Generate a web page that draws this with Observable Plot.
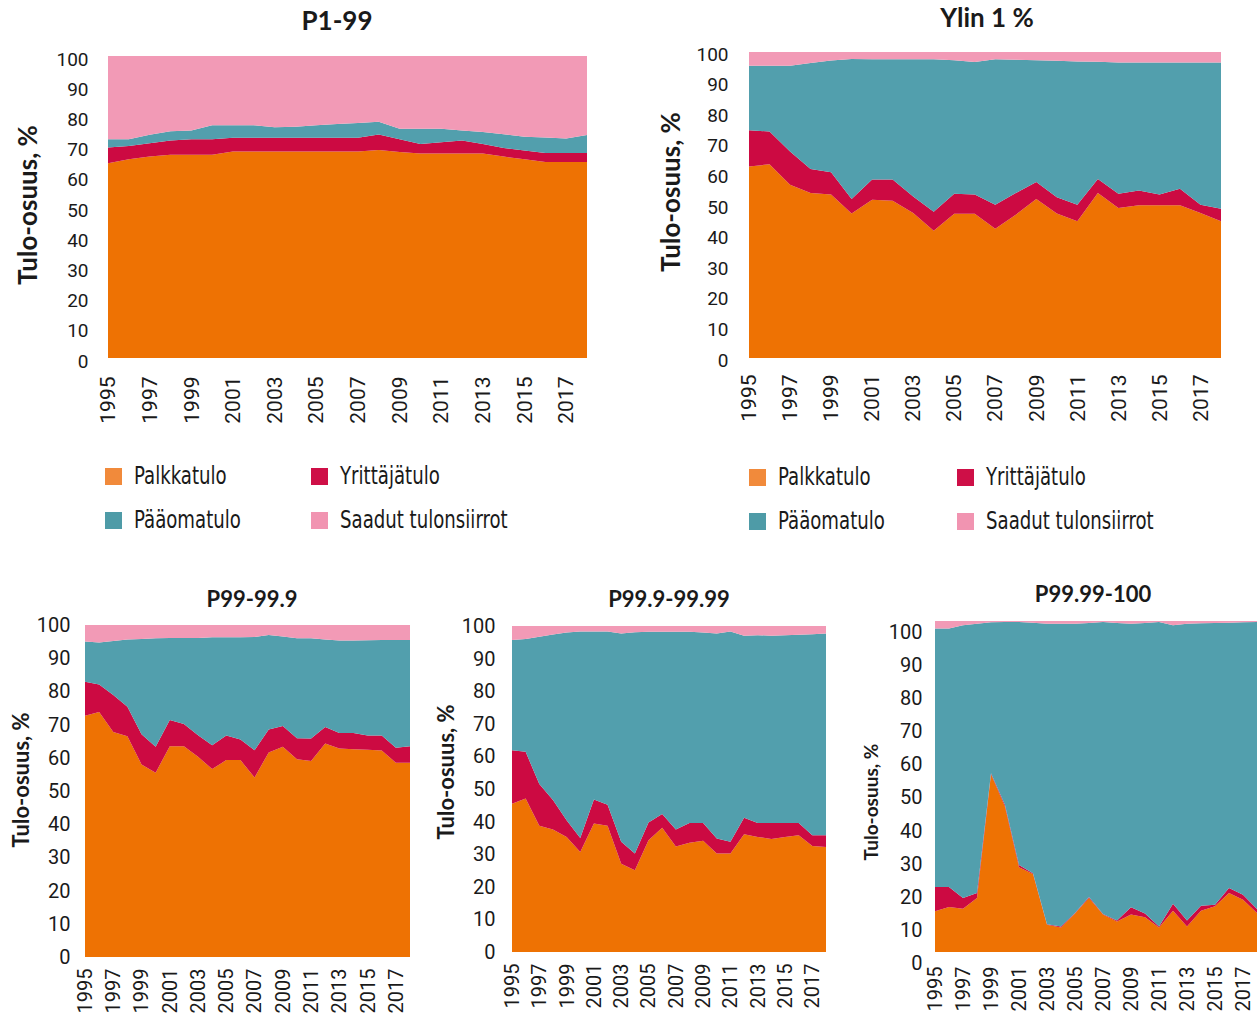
<!DOCTYPE html>
<html><head><meta charset="utf-8">
<script src="https://cdn.jsdelivr.net/npm/d3@7"></script>
<script src="https://cdn.jsdelivr.net/npm/@observablehq/plot@0.6"></script>
<style>
body{margin:0;background:#fff;}
#root{position:relative;width:1258px;height:1016px;overflow:hidden;background:#fff;font-family:Lato,"Open Sans",sans-serif;color:#1a1a1a;}
.panel{position:absolute;}
.title{position:absolute;font-weight:700;white-space:nowrap;transform:translate(-50%,-50%);}
.ytitle{position:absolute;font-weight:700;white-space:nowrap;transform:translate(-50%,-50%) rotate(-90deg);}
.leg{position:absolute;display:flex;align-items:center;font-family:"Liberation Sans Narrow","DejaVu Sans Condensed",Roboto,sans-serif;font-size:24px;white-space:nowrap;transform:translateY(-50%);color:#1a1a1a;}
.leg .sw{display:inline-block;width:17px;height:17px;margin-right:12px;flex:none;}
.leg .tx{display:inline-block;transform:scaleX(0.84);transform-origin:left center;}
</style></head>
<body>
<div id="root"></div>
<script>
// ---------- DATA ----------
const years = [1995,1996,1997,1998,1999,2000,2001,2002,2003,2004,2005,2006,2007,2008,2009,2010,2011,2012,2013,2014,2015,2016,2017,2018];
const yearTicks = [1995,1997,1999,2001,2003,2005,2007,2009,2011,2013,2015,2017];
const valueTicks = [0,10,20,30,40,50,60,70,80,90,100];
const seriesNames = ["Palkkatulo","Yrittäjätulo","Pääomatulo","Saadut tulonsiirrot"];
const panelTitles = ["P1-99","Ylin 1 %","P99-99.9","P99.9-99.99","P99.99-100"];
const yTitle = "Tulo-osuus, %";

// P1-99
const p1_palkka   = [64.5,65.8,66.7,67.3,67.3,67.3,68.4,68.4,68.4,68.4,68.4,68.4,68.4,68.9,68.2,67.7,67.7,67.7,67.7,66.7,65.8,64.9,64.9,64.9];
const p1_yritt    = [5.2,4.4,4.4,4.7,5.1,5.1,4.5,4.5,4.5,4.5,4.5,4.5,4.5,5.1,4.2,3.2,3.7,4.3,3.2,2.8,2.9,3.0,3.0,3.0];
const p1_paaoma   = [2.7,2.2,2.8,3.1,2.9,4.7,4.2,4.2,3.5,3.7,4.2,4.6,4.9,4.2,3.5,5.0,4.5,3.3,3.9,4.6,4.6,5.1,4.8,5.9];
const p1_siirrot  = [27.6,27.6,26.1,24.9,24.7,22.9,22.9,22.9,23.6,23.4,22.9,22.5,22.2,21.8,24.1,24.1,24.1,24.7,25.2,25.9,26.7,27.0,27.3,26.2];

// Ylin 1 %
const top1_palkka  = [62.6,63.3,56.6,53.9,53.4,47.2,51.7,51.4,47.4,41.6,47.1,47.1,42.2,46.8,52.0,47.2,44.7,53.9,49.0,49.9,49.9,49.9,47.4,44.7];
const top1_yritt   = [11.8,10.7,10.9,7.9,7.3,4.8,6.6,6.9,5.4,6.2,6.6,6.3,7.9,7.1,5.5,5.3,5.4,4.6,4.7,4.8,3.5,5.4,2.7,4.1];
const top1_paaoma  = [21.1,21.5,28.0,34.6,36.5,45.7,39.3,39.3,44.8,49.8,43.6,43.3,47.5,43.6,39.8,44.6,46.8,38.3,42.9,41.9,43.2,41.3,46.5,47.8];
const top1_siirrot = [4.5,4.5,4.5,3.6,2.8,2.3,2.4,2.4,2.4,2.4,2.7,3.3,2.4,2.5,2.7,2.9,3.1,3.2,3.4,3.4,3.4,3.4,3.4,3.4];

// P99-99.9
const p99_palkka  = [72.7,73.8,67.8,66.5,58.0,55.5,63.5,63.5,60.3,56.6,59.3,59.3,54.1,61.6,63.3,59.6,59.0,64.3,62.8,62.6,62.4,62.2,58.5,58.5];
const p99_yritt   = [10.2,8.3,11.1,8.9,9.1,7.8,7.9,6.7,6.5,7.2,7.4,6.2,8.2,6.9,6.3,6.3,6.8,5.0,4.7,4.9,4.3,4.5,4.5,5.0];
const p99_paaoma  = [12.1,12.6,16.3,20.2,28.7,32.7,24.7,25.9,29.3,32.5,29.6,30.8,34.1,28.5,26.9,30.1,30.2,26.3,27.8,27.8,28.7,28.8,32.5,32.0];
const p99_siirrot = [5.0,5.3,4.8,4.4,4.2,4.0,3.9,3.9,3.9,3.7,3.7,3.7,3.6,3.0,3.5,4.0,4.0,4.4,4.7,4.7,4.6,4.5,4.5,4.5];

// P99.9-99.99
const p999_palkka  = [45.5,47.1,38.7,37.6,35.3,30.7,39.4,38.7,27.1,25.1,34.3,38.1,32.4,33.5,34.1,30.2,30.2,36.1,35.3,34.7,35.3,35.8,32.5,32.2];
const p999_yritt   = [16.4,14.3,12.8,9.0,5.1,4.3,7.4,6.5,6.7,5.1,5.4,4.2,5.2,6.1,5.5,4.6,3.6,5.1,4.3,4.9,4.3,3.8,3.3,3.6];
const p999_paaoma  = [33.8,34.6,45.2,50.8,57.6,63.3,51.5,53.1,63.9,67.9,58.5,55.9,60.6,58.6,58.4,62.9,64.5,55.8,57.6,57.4,57.6,57.7,61.7,61.9];
const p999_siirrot = [4.3,4.0,3.3,2.6,2.0,1.7,1.7,1.7,2.3,1.9,1.8,1.8,1.8,1.8,2.0,2.3,1.7,3.0,2.8,3.0,2.8,2.7,2.5,2.3];

// P99.99-100
const p9999_palkka  = [12.3,13.6,13.1,16.3,53.7,43.9,25.6,23.6,8.2,7.4,11.6,16.3,11.3,9.2,11.3,10.5,7.4,12.5,7.7,12.5,13.8,17.8,15.8,11.8];
const p9999_yritt   = [7.3,6.0,3.2,1.5,0.3,0.5,0.7,0.2,0.2,0.3,0.2,0.3,0.2,0.3,2.2,1.1,0.3,2.1,1.8,1.5,0.5,1.5,1.5,1.2];
const p9999_paaoma  = [78.1,78.1,82.4,81.4,45.6,55.3,73.4,75.7,90.8,91.5,87.4,82.8,88.2,89.9,85.7,87.8,92.0,84.1,89.7,85.3,85.1,80.2,82.3,86.7];
const p9999_siirrot = [2.3,2.3,1.3,0.8,0.4,0.3,0.3,0.5,0.8,0.8,0.8,0.6,0.3,0.6,0.8,0.6,0.3,1.3,0.8,0.7,0.6,0.5,0.4,0.3];

// ---------- STYLE ----------
const areaColors = ["#EE7203","#CC0A42","#529FAD","#F29AB6"];
const legendColors = ["#F18A3B","#CE0F47","#4E9BA7","#F194B1"];

const panelSeries = [
  [p1_palkka,p1_yritt,p1_paaoma,p1_siirrot],
  [top1_palkka,top1_yritt,top1_paaoma,top1_siirrot],
  [p99_palkka,p99_yritt,p99_paaoma,p99_siirrot],
  [p999_palkka,p999_yritt,p999_paaoma,p999_siirrot],
  [p9999_palkka,p9999_yritt,p9999_paaoma,p9999_siirrot]
];

// layout per panel
const layouts = [
  {left:0,top:0,width:600,height:440,mL:108,mR:13,mT:56,mB:82,tickPad:20,xPad:18,tick:19,xTick:21,
   title:{x:337,y:20,size:26}, yt:{x:27,y:205,size:26}, dy:3},
  {left:640,top:0,width:618,height:440,mL:109,mR:37,mT:52,mB:82,tickPad:21,xPad:16,tick:19,xTick:21,
   title:{x:987,y:17,size:26}, yt:{x:670,y:192,size:26}, dy:2},
  {left:0,top:570,width:420,height:446,mL:85,mR:10,mT:55,mB:59,tickPad:15,xPad:11,tick:20,xTick:20,
   title:{x:252,y:598,size:22}, yt:{x:20,y:780,size:22}, dy:0},
  {left:420,top:570,width:420,height:446,mL:92,mR:14,mT:56,mB:64,tickPad:17,xPad:11,tick:20,xTick:20,
   title:{x:669,y:598,size:22}, yt:{x:445,y:772,size:22}, dy:0},
  {left:840,top:570,width:418,height:446,mL:95,mR:1,mT:51,mB:64,tickPad:13,xPad:14,tick:20,xTick:20,
   title:{x:1093,y:593,size:22}, yt:{x:870,y:802,size:19}, dy:11}
];

const root = document.getElementById("root");

panelSeries.forEach((arrs, p) => {
  const L = layouts[p];
  const rows = [];
  seriesNames.forEach((s, k) => years.forEach((yr, i) => rows.push({year: yr, series: s, value: arrs[k][i]})));
  const chart = Plot.plot({
    width: L.width, height: L.height,
    marginLeft: L.mL, marginRight: L.mR, marginTop: L.mT, marginBottom: L.mB,
    style: {fontFamily: "Roboto, 'Open Sans', sans-serif", fontSize: L.tick + "px", color: "#1a1a1a", background: "transparent", overflow: "visible"},
    x: {type: "linear", domain: [1995, 2018]},
    y: {domain: [0, 100]},
    color: {domain: seriesNames, range: areaColors},
    marks: [
      Plot.areaY(rows, {x: "year", y: "value", fill: "series", z: "series", order: seriesNames}),
      Plot.axisX({ticks: yearTicks, tickFormat: d => String(d), tickRotate: -90, tickSize: 0, tickPadding: L.xPad, fontSize: L.xTick, label: null}),
      Plot.axisY({ticks: valueTicks, tickSize: 0, tickPadding: L.tickPad, fontSize: L.tick, label: null, dy: L.dy})
    ]
  });
  const wrap = document.createElement("div");
  wrap.className = "panel";
  wrap.style.left = L.left + "px";
  wrap.style.top = L.top + "px";
  wrap.appendChild(chart);
  root.appendChild(wrap);

  const t = document.createElement("div");
  t.className = "title";
  t.textContent = panelTitles[p];
  t.style.left = L.title.x + "px"; t.style.top = L.title.y + "px"; t.style.fontSize = L.title.size + "px";
  root.appendChild(t);

  const yt = document.createElement("div");
  yt.className = "ytitle";
  yt.textContent = yTitle;
  yt.style.left = L.yt.x + "px"; yt.style.top = L.yt.y + "px"; yt.style.fontSize = L.yt.size + "px";
  root.appendChild(yt);
});

// legends for top panels
const legendPos = [
  {cols:[105,311], rows:[476,520]},
  {cols:[749,957], rows:[477,521]}
];
legendPos.forEach(lp => {
  seriesNames.forEach((s, k) => {
    const d = document.createElement("div");
    d.className = "leg";
    d.style.left = lp.cols[k % 2] + "px";
    d.style.top = lp.rows[Math.floor(k / 2)] + "px";
    const sw = document.createElement("span");
    sw.className = "sw"; sw.style.background = legendColors[k];
    const tx = document.createElement("span");
    tx.className = "tx";
    tx.textContent = s;
    d.appendChild(sw); d.appendChild(tx);
    root.appendChild(d);
  });
});
</script>
</body></html>
